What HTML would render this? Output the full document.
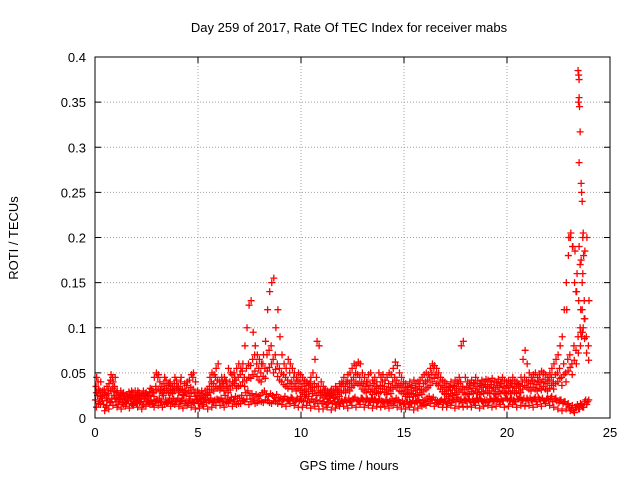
<!DOCTYPE html>
<html><head><meta charset="utf-8"><style>
body{margin:0;background:#fff}
svg{display:block;font-family:"Liberation Sans",sans-serif}
</style></head><body>
<svg id="chart" width="640" height="480" viewBox="0 0 640 480">
<rect width="640" height="480" fill="#fff"/>
<g id="grid"></g>
<g id="ticks"></g>
<g id="points"></g>
<rect x="95" y="57" width="515" height="361" fill="none" stroke="#000" stroke-width="1"/>
<text x="349" y="32" text-anchor="middle" font-size="13">Day 259 of 2017, Rate Of TEC Index for receiver mabs</text>
<text x="349" y="470" text-anchor="middle" font-size="13">GPS time / hours</text>
<text transform="translate(18,238) rotate(-90)" text-anchor="middle" font-size="13">ROTI / TECUs</text>
</svg>
<script>
const xTicks=[0,5,10,15,20,25];
const yTicks=[0,0.05,0.1,0.15,0.2,0.25,0.3,0.35,0.4];
const yTickLabels=["0","0.05","0.1","0.15","0.2","0.25","0.3","0.35","0.4"];
const stepA=0.1;
const seriesA=[.020,.025,.018,.022,.015,.012,.020,.018,.022,.025,
.018,.015,.020,.017,.022,.016,.019,.021,.015,.018,
.016,.020,.018,.015,.022,.019,.017,.020,.016,.018,
.020,.022,.018,.025,.020,.017,.022,.019,.021,.018,
.022,.018,.020,.025,.019,.016,.021,.018,.017,.020,
.016,.018,.015,.020,.017,.019,.022,.018,.020,.021,
.020,.022,.018,.025,.021,.019,.023,.020,.024,.022,
.022,.025,.020,.028,.030,.025,.027,.022,.026,.024,
.025,.028,.030,.026,.024,.027,.025,.023,.026,.022,
.022,.020,.024,.021,.019,.023,.020,.018,.022,.019,
.020,.018,.022,.019,.017,.021,.018,.020,.016,.019,
.016,.018,.015,.017,.019,.016,.018,.015,.017,.016,
.018,.020,.017,.022,.019,.021,.023,.020,.018,.022,
.020,.018,.021,.019,.022,.017,.020,.018,.021,.019,
.018,.020,.017,.019,.021,.018,.022,.020,.017,.019,
.016,.018,.015,.017,.019,.016,.018,.020,.017,.019,
.020,.022,.024,.021,.023,.020,.019,.018,.020,.017,
.018,.016,.019,.017,.020,.018,.021,.019,.017,.020,
.019,.021,.018,.020,.017,.022,.019,.021,.018,.020,
.020,.018,.021,.019,.022,.020,.018,.021,.019,.022,
.021,.019,.022,.020,.018,.021,.023,.020,.022,.019,
.020,.022,.019,.021,.018,.023,.020,.022,.019,.021,
.020,.022,.018,.021,.019,.017,.020,.016,.018,.015,
.012,.010,.008,.012,.015,.010,.014,.012,.020,.018];
const seriesB=[.035,.040,.030,.028,.032,.025,.030,.042,.045,.035,
.028,.025,.030,.027,.024,.026,.029,.025,.028,.030,
.026,.028,.024,.030,.027,.025,.029,.032,.028,.035,
.045,.040,.035,.038,.042,.036,.040,.035,.038,.042,
.035,.040,.032,.038,.036,.030,.034,.045,.028,.025,
.028,.025,.027,.030,.032,.035,.040,.038,.045,.042,
.040,.045,.038,.042,.035,.040,.048,.050,.042,.045,
.048,.052,.045,.055,.060,.058,.065,.070,.060,.055,
.050,.060,.055,.070,.075,.080,.065,.070,.060,.055,
.050,.048,.045,.042,.050,.040,.045,.038,.042,.040,
.035,.038,.032,.036,.040,.034,.038,.045,.035,.030,
.028,.030,.025,.027,.030,.026,.028,.032,.030,.035,
.038,.035,.040,.038,.042,.045,.050,.048,.045,.040,
.038,.035,.040,.036,.032,.038,.035,.033,.036,.040,
.035,.032,.038,.034,.040,.045,.042,.038,.036,.034,
.030,.032,.028,.034,.030,.033,.031,.035,.032,.038,
.040,.042,.045,.050,.055,.048,.045,.040,.036,.034,
.032,.030,.034,.031,.035,.033,.038,.040,.035,.032,
.034,.032,.036,.033,.038,.035,.032,.036,.034,.037,
.035,.033,.037,.034,.032,.036,.034,.038,.035,.033,
.036,.034,.038,.035,.033,.037,.035,.040,.045,.042,
.040,.038,.042,.040,.037,.041,.039,.043,.040,.038,
.042,.045,.040,.048,.050,.055,.045,.060,.050,.065,
.070,.060,.080,.075,.090,.100,.120,.110,.090,.080];
const seriesC=[.045,.030,.040,.025,.028,.035,.038,.048,.040,.045,
.030,.022,.025,.028,.020,.024,.026,.030,.022,.025,
.030,.024,.026,.022,.028,.025,.033,.028,.045,.050,
.048,.032,.028,.045,.030,.038,.028,.032,.045,.035,
.030,.045,.025,.030,.040,.042,.048,.050,.040,.030,
.022,.030,.020,.025,.028,.045,.050,.048,.055,.060,
.035,.040,.045,.040,.055,.050,.040,.045,.055,.060,
.055,.060,.080,.100,.125,.130,.095,.080,.070,.065,
.060,.070,.085,.120,.140,.150,.155,.100,.120,.090,
.070,.060,.055,.065,.060,.055,.050,.045,.050,.048,
.045,.042,.040,.038,.045,.050,.065,.085,.080,.040,
.035,.032,.030,.028,.032,.030,.035,.030,.038,.040,
.045,.040,.048,.050,.055,.060,.058,.062,.060,.050,
.045,.040,.048,.050,.042,.045,.040,.050,.045,.048,
.042,.045,.050,.048,.055,.062,.058,.050,.045,.040,
.038,.035,.040,.036,.042,.038,.040,.042,.045,.048,
.050,.048,.055,.060,.058,.055,.050,.045,.042,.040,
.038,.035,.040,.036,.042,.040,.045,.080,.085,.045,
.040,.038,.042,.039,.045,.041,.038,.042,.040,.043,
.042,.040,.044,.041,.039,.043,.040,.045,.042,.040,
.042,.040,.045,.042,.040,.038,.045,.065,.075,.060,
.050,.045,.048,.050,.045,.048,.052,.050,.048,.045,
.050,.055,.060,.065,.070,.080,.090,.120,.150,.180,
.200,.190,.150,.140,.130,.120,.160,.185,.200,.130];
const seriesE=[.028,.032,.024,.030,.026,.022,.027,.031,.033,.029,
.023,.021,.026,.024,.020,.022,.025,.023,.021,.024,
.022,.025,.021,.026,.024,.022,.025,.028,.024,.030,
.032,.030,.027,.031,.033,.028,.031,.027,.030,.033,
.028,.031,.026,.030,.028,.024,.027,.032,.024,.021,
.022,.021,.023,.025,.026,.028,.032,.030,.035,.033,
.031,.035,.030,.033,.028,.031,.036,.038,.033,.035,
.036,.040,.035,.042,.045,.044,.048,.052,.046,.042,
.040,.046,.044,.052,.056,.060,.050,.054,.046,.042,
.040,.037,.035,.033,.038,.032,.035,.030,.033,.031,
.028,.030,.026,.029,.032,.027,.030,.035,.028,.025,
.023,.025,.021,.022,.025,.022,.023,.026,.024,.028,
.030,.028,.032,.030,.034,.036,.040,.038,.036,.032,
.030,.028,.032,.029,.026,.030,.028,.027,.029,.032,
.028,.026,.030,.027,.032,.036,.034,.030,.029,.027,
.024,.026,.023,.027,.024,.026,.025,.028,.026,.030,
.032,.034,.036,.040,.044,.038,.036,.032,.029,.027,
.026,.024,.027,.025,.028,.026,.030,.032,.028,.026,
.027,.026,.029,.027,.030,.028,.026,.029,.027,.030,
.028,.027,.030,.027,.026,.029,.027,.030,.028,.027,
.029,.027,.030,.028,.027,.030,.028,.032,.036,.034,
.032,.030,.034,.032,.030,.033,.031,.035,.032,.030,
.033,.036,.032,.038,.040,.044,.036,.048,.040,.052,
.056,.048,.064,.060,.072,.080,.095,.088,.072,.064];
const stepD=0.2;
const seriesD=[.012,.015,.008,.010,.014,.012,.010,.013,.011,.014,
.012,.010,.013,.015,.012,.014,.012,.016,.013,.015,
.013,.011,.014,.012,.010,.011,.013,.010,.012,.014,
.014,.012,.016,.013,.015,.016,.018,.015,.020,.017,
.018,.020,.017,.019,.016,.015,.013,.016,.014,.012,
.012,.014,.011,.013,.010,.010,.012,.009,.011,.013,
.013,.011,.014,.012,.015,.012,.014,.011,.013,.012,
.013,.011,.014,.012,.010,.010,.012,.009,.011,.013,
.014,.016,.013,.015,.012,.012,.014,.011,.013,.012,
.013,.012,.014,.011,.013,.014,.012,.013,.015,.012,
.013,.015,.012,.014,.013,.014,.012,.015,.013,.016,
.014,.012,.010,.008,.010,.008,.006,.010,.012,.015];
const seriesF=[.016,.019,.014,.017,.021,.018,.015,.019,.016,.020,
.017,.015,.018,.016,.019,.017,.015,.018,.016,.019,
.018,.016,.019,.017,.020,.018,.021,.019,.017,.020,
.019,.017,.020,.018,.016,.019,.021,.018,.016,.019,
.017,.019,.016,.018,.020,.021,.019,.022,.020,.024,
.026,.024,.027,.025,.028,.026,.024,.023,.021,.019,
.020,.018,.021,.019,.022,.020,.018,.021,.019,.017,
.018,.016,.019,.017,.015,.018,.016,.019,.017,.015,
.018,.020,.017,.019,.021,.022,.020,.023,.021,.019,
.020,.018,.021,.019,.017,.020,.018,.021,.019,.022,
.020,.018,.021,.019,.022,.020,.023,.021,.019,.022,
.024,.022,.020,.018,.016,.014,.012,.016,.018,.020];
const spikeT=[23.45,23.48,23.5,23.5,23.52,23.55,23.5,23.47,23.6,23.62,23.65,23.7,23.68,23.72,23.5,23.55,23.6,23.65,23.4,23.3,23.2,23.1,23.0,22.9,23.35,23.75,23.78,23.7,23.58,23.62];
const spikeV=[.385,.38,.375,.355,.345,.317,.283,.35,.26,.25,.24,.205,.2,.18,.19,.17,.175,.15,.16,.185,.19,.205,.2,.12,.14,.13,.11,.1,.095,.09];

const X0=95,X1=610,Y0=418,Y1=57;
function xs(t){return X0+(t/25)*(X1-X0);}
function ys(v){return Y0-(v/0.4)*(Y0-Y1);}
const NS="http://www.w3.org/2000/svg";
const grid=document.getElementById('grid'),ticks=document.getElementById('ticks'),pts=document.getElementById('points');
function mk(tag,attrs,parent){const e=document.createElementNS(NS,tag);for(const k in attrs)e.setAttribute(k,attrs[k]);parent.appendChild(e);return e;}
xTicks.forEach(function(t){
  const x=xs(t);
  if(t>0&&t<25){const g=mk('line',{x1:x,x2:x,y1:Y1,y2:Y0,stroke:'#a0a0a0','stroke-dasharray':'1,2'},grid);
  
  }
  mk('line',{x1:x,x2:x,y1:Y0,y2:Y0-6,stroke:'#000'},ticks);
  mk('line',{x1:x,x2:x,y1:Y1,y2:Y1+6,stroke:'#000'},ticks);
  const l=mk('text',{x:x,y:Y0+19,'text-anchor':'middle','font-size':'13'},ticks);
  l.textContent=String(t);
  
  
});
yTicks.forEach(function(v,i){
  const y=ys(v);
  if(i>0&&i<yTicks.length-1){const g=mk('line',{x1:X0,x2:X1,y1:y,y2:y,stroke:'#a0a0a0','stroke-dasharray':'1,2'},grid);
  
  }
  mk('line',{x1:X0,x2:X0+6,y1:y,y2:y,stroke:'#000'},ticks);
  mk('line',{x1:X1,x2:X1-6,y1:y,y2:y,stroke:'#000'},ticks);
  const l=mk('text',{x:X0-9,y:y+5,'text-anchor':'end','font-size':'13'},ticks);
  l.textContent=yTickLabels[i];
  
  
});
function cross(t,v,color,name){
  const x=xs(t),y=ys(v);
  const p=mk('path',{d:'M'+(x-3.5)+' '+y+'h7M'+x+' '+(y-3.5)+'v7',stroke:color,'stroke-width':'1.3',fill:'none'},pts);
  
  
}
seriesA.forEach(function(v,i){cross(i*stepA+0.02,v,'#f00','roti-point-a');});
seriesD.forEach(function(v,i){cross(i*stepD+0.07,v,'#f00','roti-point-d');});
seriesF.forEach(function(v,i){cross(i*stepD+0.17,v,'#f00','roti-point-f');});
seriesE.forEach(function(v,i){cross(i*stepA+0.065,v,'#f00','roti-point-e');});
seriesB.forEach(function(v,i){cross(i*stepA+0.05,v,'#f00','roti-point-b');});
seriesC.forEach(function(v,i){cross(i*stepA+0.08,v,'#f00','roti-point-c');});
spikeT.forEach(function(t,i){cross(t,spikeV[i],'#f00','roti-spike-point');});
</script>
</body></html>
